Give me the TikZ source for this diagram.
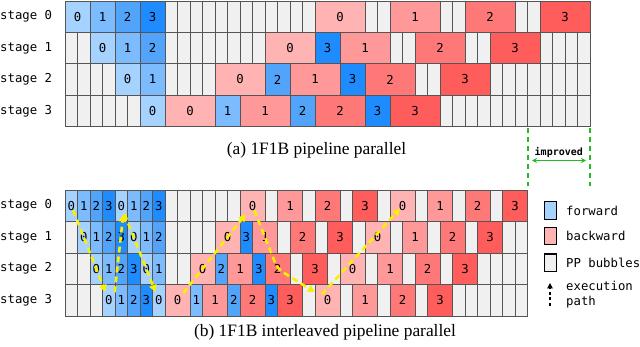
\documentclass[tikz,border=0pt]{standalone}
\usepackage{fontspec}
\setmainfont{Liberation Serif}
\setmonofont{DejaVu Sans Mono}
\usetikzlibrary{arrows.meta,calc}
\definecolor{fa}{HTML}{A6D2FF}
\definecolor{fb}{HTML}{7DBBFF}
\definecolor{fc}{HTML}{52A3FA}
\definecolor{fd}{HTML}{1E8CFF}
\definecolor{ba}{HTML}{FFB3B3}
\definecolor{bb}{HTML}{FF9999}
\definecolor{bc}{HTML}{FF7878}
\definecolor{bd}{HTML}{FF5C5C}
\definecolor{bub}{HTML}{F0F0F0}
\definecolor{edge}{HTML}{555555}
\definecolor{ylw}{HTML}{F8F000}
\definecolor{grn}{HTML}{22BB22}
\tikzset{
  cellbase/.style={draw=edge, line width=0.9pt, inner sep=0pt, outer sep=0pt, anchor=north west, font=\ttfamily\fontsize{12.3}{14}\selectfont},
  stagelbl/.style={anchor=west, inner sep=0pt, font=\ttfamily\fontsize{12.3}{14}\selectfont},
  lgbox/.style={draw=black, line width=1.1pt, minimum width=12pt, minimum height=17.5pt, inner sep=0pt},
  lgtext/.style={anchor=west, inner sep=0pt, align=left, font=\ttfamily\fontsize{12.3}{15}\selectfont},
  capt/.style={anchor=base, inner sep=0pt, font=\fontsize{17.4}{20}\selectfont},
  execpath/.style={draw=ylw, line width=2.6pt, dash pattern=on 6pt off 4pt, -{Triangle[length=7pt,width=7.5pt]}},
  gdash/.style={draw=grn, line width=2pt, dash pattern=on 5pt off 4pt},
  garrow/.style={draw=grn, line width=1.6pt, {Stealth[length=5pt,width=5pt]}-{Stealth[length=5pt,width=5pt]}},
}
% name, ytop, height, start, end, fill, text
\newcommand{\cel}[7]{\node[cellbase,fill=#6,minimum width={((#5)-(#4))*12.5pt},minimum height=#3pt] (#1) at ({65+(#4)*12.5},{#2}) {#7};}
% top chart cell: name,row,start,end,fill,text
\newcommand{\tc}[6]{\cel{#1}{1+#2*31.4}{31.4}{#3}{#4}{#5}{#6}}
\newcommand{\bc}[6]{\cel{#1}{190+#2*31.5}{31.5}{#3}{#4}{#5}{#6}}
\newcommand{\tu}[2]{\foreach \k in {#2}{\tc{t#1u\k}{#1}{\k}{\k+1}{bub}{}}}
\newcommand{\bu}[2]{\foreach \k in {#2}{\bc{b#1u\k}{#1}{\k}{\k+1}{bub}{}}}
\begin{document}
\begin{tikzpicture}[x=1pt,y=-1pt]
\useasboundingbox (0,0) rectangle (640,347);
% ---------------- top chart ----------------
\node[stagelbl] (ts0) at (0,16.7) {stage 0};
\node[stagelbl] (ts1) at (0,48.1) {stage 1};
\node[stagelbl] (ts2) at (0,79.5) {stage 2};
\node[stagelbl] (ts3) at (0,110.9) {stage 3};
% row 0
\tc{t0f0}{0}{0}{2}{fa}{0}
\tc{t0f1}{0}{2}{4}{fb}{1}
\tc{t0f2}{0}{4}{6}{fc}{2}
\tc{t0f3}{0}{6}{8}{fd}{3}
\tu{0}{8,...,19}
\tc{t0b0}{0}{20}{24}{ba}{0}
\tu{0}{24,25}
\tc{t0b1}{0}{26}{30}{bb}{1}
\tu{0}{30,31}
\tc{t0b2}{0}{32}{36}{bc}{2}
\tu{0}{36,37}
\tc{t0b3}{0}{38}{42}{bd}{3}
% row 1
\tu{1}{0,1}
\tc{t1f0}{1}{2}{4}{fa}{0}
\tc{t1f1}{1}{4}{6}{fb}{1}
\tc{t1f2}{1}{6}{8}{fc}{2}
\tu{1}{8,...,15}
\tc{t1b0}{1}{16}{20}{ba}{0}
\tc{t1f3}{1}{20}{22}{fd}{3}
\tc{t1b1}{1}{22}{26}{bb}{1}
\tu{1}{26,27}
\tc{t1b2}{1}{28}{32}{bc}{2}
\tu{1}{32,33}
\tc{t1b3}{1}{34}{38}{bd}{3}
\tu{1}{38,...,41}
% row 2
\tu{2}{0,...,3}
\tc{t2f0}{2}{4}{6}{fa}{0}
\tc{t2f1}{2}{6}{8}{fb}{1}
\tu{2}{8,...,11}
\tc{t2b0}{2}{12}{16}{ba}{0}
\tc{t2f2}{2}{16}{18}{fc}{2}
\tc{t2b1}{2}{18}{22}{bb}{1}
\tc{t2f3}{2}{22}{24}{fd}{3}
\tc{t2b2}{2}{24}{28}{bc}{2}
\tu{2}{28,29}
\tc{t2b3}{2}{30}{34}{bd}{3}
\tu{2}{34,...,41}
% row 3
\tu{3}{0,...,5}
\tc{t3f0}{3}{6}{8}{fa}{0}
\tc{t3b0}{3}{8}{12}{ba}{0}
\tc{t3f1}{3}{12}{14}{fb}{1}
\tc{t3b1}{3}{14}{18}{bb}{1}
\tc{t3f2}{3}{18}{20}{fc}{2}
\tc{t3b2}{3}{20}{24}{bc}{2}
\tc{t3f3}{3}{24}{26}{fd}{3}
\tc{t3b3}{3}{26}{30}{bd}{3}
\tu{3}{30,...,41}
\node[capt] (capa) at (316.5,155) {(a) 1F1B pipeline parallel};
% ---------------- improved marker ----------------
\coordinate (g1t) at (527.7,128);
\coordinate (g1b) at (527.7,186);
\coordinate (g2t) at (590,128);
\coordinate (g2b) at (590,186);
\draw[gdash] (g1t) -- (g1b);
\draw[gdash] (g2t) -- (g2b);
\coordinate (ga1) at (532,160.5);
\coordinate (ga2) at (586,160.5);
\draw[garrow] (ga1) -- (ga2);
\node[inner sep=0pt, font=\ttfamily\bfseries\fontsize{10}{12}\selectfont] (impr) at (558.8,152.5) {improved};
% ---------------- bottom chart ----------------
\node[stagelbl] (bs0) at (0,205.75) {stage 0};
\node[stagelbl] (bs1) at (0,237.25) {stage 1};
\node[stagelbl] (bs2) at (0,268.75) {stage 2};
\node[stagelbl] (bs3) at (0,300.25) {stage 3};
% row 0
\bc{b0f0}{0}{0}{1}{fa}{0}
\bc{b0f1}{0}{1}{2}{fb}{1}
\bc{b0f2}{0}{2}{3}{fc}{2}
\bc{b0f3}{0}{3}{4}{fd}{3}
\bc{b0g0}{0}{4}{5}{fa}{0}
\bc{b0g1}{0}{5}{6}{fb}{1}
\bc{b0g2}{0}{6}{7}{fc}{2}
\bc{b0g3}{0}{7}{8}{fd}{3}
\bu{0}{8,...,13}
\bc{b0b0}{0}{14}{16}{ba}{0}
\bu{0}{16}
\bc{b0b1}{0}{17}{19}{bb}{1}
\bu{0}{19}
\bc{b0b2}{0}{20}{22}{bc}{2}
\bu{0}{22}
\bc{b0b3}{0}{23}{25}{bd}{3}
\bu{0}{25}
\bc{b0c0}{0}{26}{28}{ba}{0}
\bu{0}{28}
\bc{b0c1}{0}{29}{31}{bb}{1}
\bu{0}{31}
\bc{b0c2}{0}{32}{34}{bc}{2}
\bu{0}{34}
\bc{b0c3}{0}{35}{37}{bd}{3}
% row 1
\bu{1}{0}
\bc{b1f0}{1}{1}{2}{fa}{0}
\bc{b1f1}{1}{2}{3}{fb}{1}
\bc{b1f2}{1}{3}{4}{fc}{2}
\bc{b1f3}{1}{4}{5}{fd}{3}
\bc{b1g0}{1}{5}{6}{fa}{0}
\bc{b1g1}{1}{6}{7}{fb}{1}
\bc{b1g2}{1}{7}{8}{fc}{2}
\bu{1}{8,...,11}
\bc{b1b0}{1}{12}{14}{ba}{0}
\bc{b1g3}{1}{14}{15}{fd}{3}
\bc{b1b1}{1}{15}{17}{bb}{1}
\bu{1}{17}
\bc{b1b2}{1}{18}{20}{bc}{2}
\bu{1}{20}
\bc{b1b3}{1}{21}{23}{bd}{3}
\bu{1}{23}
\bc{b1c0}{1}{24}{26}{ba}{0}
\bu{1}{26}
\bc{b1c1}{1}{27}{29}{bb}{1}
\bu{1}{29}
\bc{b1c2}{1}{30}{32}{bc}{2}
\bu{1}{32}
\bc{b1c3}{1}{33}{35}{bd}{3}
\bu{1}{35,36}
% row 2
\bu{2}{0,1}
\bc{b2f0}{2}{2}{3}{fa}{0}
\bc{b2f1}{2}{3}{4}{fb}{1}
\bc{b2f2}{2}{4}{5}{fc}{2}
\bc{b2f3}{2}{5}{6}{fd}{3}
\bc{b2g0}{2}{6}{7}{fa}{0}
\bc{b2g1}{2}{7}{8}{fb}{1}
\bu{2}{8,9}
\bc{b2b0}{2}{10}{12}{ba}{0}
\bc{b2g2}{2}{12}{13}{fc}{2}
\bc{b2b1}{2}{13}{15}{bb}{1}
\bc{b2g3}{2}{15}{16}{fd}{3}
\bc{b2b2}{2}{16}{18}{bc}{2}
\bu{2}{18}
\bc{b2b3}{2}{19}{21}{bd}{3}
\bu{2}{21}
\bc{b2c0}{2}{22}{24}{ba}{0}
\bu{2}{24}
\bc{b2c1}{2}{25}{27}{bb}{1}
\bu{2}{27}
\bc{b2c2}{2}{28}{30}{bc}{2}
\bu{2}{30}
\bc{b2c3}{2}{31}{33}{bd}{3}
\bu{2}{33,...,36}
% row 3
\bu{3}{0,1,2}
\bc{b3f0}{3}{3}{4}{fa}{0}
\bc{b3f1}{3}{4}{5}{fb}{1}
\bc{b3f2}{3}{5}{6}{fc}{2}
\bc{b3f3}{3}{6}{7}{fd}{3}
\bc{b3g0}{3}{7}{8}{fa}{0}
\bc{b3b0}{3}{8}{10}{ba}{0}
\bc{b3g1}{3}{10}{11}{fb}{1}
\bc{b3b1}{3}{11}{13}{bb}{1}
\bc{b3g2}{3}{13}{14}{fc}{2}
\bc{b3b2}{3}{14}{16}{bc}{2}
\bc{b3g3}{3}{16}{17}{fd}{3}
\bc{b3b3}{3}{17}{19}{bd}{3}
\bu{3}{19}
\bc{b3c0}{3}{20}{22}{ba}{0}
\bu{3}{22}
\bc{b3c1}{3}{23}{25}{bb}{1}
\bu{3}{25}
\bc{b3c2}{3}{26}{28}{bc}{2}
\bu{3}{28}
\bc{b3c3}{3}{29}{31}{bd}{3}
\bu{3}{31,...,36}
\node[capt] (capb) at (325,337) {(b) 1F1B interleaved pipeline parallel};
% ---------------- execution path ----------------
\draw[execpath, shorten <=5pt, shorten >=9pt] (b0f0.center) -- (b3f0.center);
\draw[execpath, shorten <=8pt, shorten >=9pt] ([xshift=5pt]b3f0.center) -- ([xshift=3pt]b0g0.center);
\draw[execpath, shorten <=9pt, shorten >=9pt] (b0g0.center) -- (b3g0.center);
\draw[execpath, shorten <=9pt, shorten >=11pt] (b3b0.center) -- (b0b0.center);
\draw[execpath, shorten <=5pt, shorten >=15pt, rounded corners=6pt] (b0b0.center) -- (b2b2.center) -- (b3c0.center);
\draw[execpath, shorten <=8pt, shorten >=4pt] ([xshift=-11pt]b3c0.center) -- (b0c0.center);
% ---------------- legend ----------------
\node[lgbox, fill=fa] (lgF) at (550.5,210.5) {};
\node[lgbox, fill=ba] (lgB) at (550.5,236.2) {};
\node[lgbox, fill=bub] (lgU) at (550.5,262.8) {};
\node[lgtext] (lgFt) at (566,210.5) {forward};
\node[lgtext] (lgBt) at (566,236.2) {backward};
\node[lgtext] (lgUt) at (566,262.5) {PP bubbles};
\node[lgtext] (lgEt) at (566,294.5) {execution\\path};
\coordinate (lgE1) at (550,306);
\coordinate (lgE2) at (550,283);
\draw[line width=1.1pt, dash pattern=on 3pt off 2.5pt, -{Triangle[length=5.5pt,width=5.5pt]}] (lgE1) -- (lgE2);
\end{tikzpicture}
\end{document}
